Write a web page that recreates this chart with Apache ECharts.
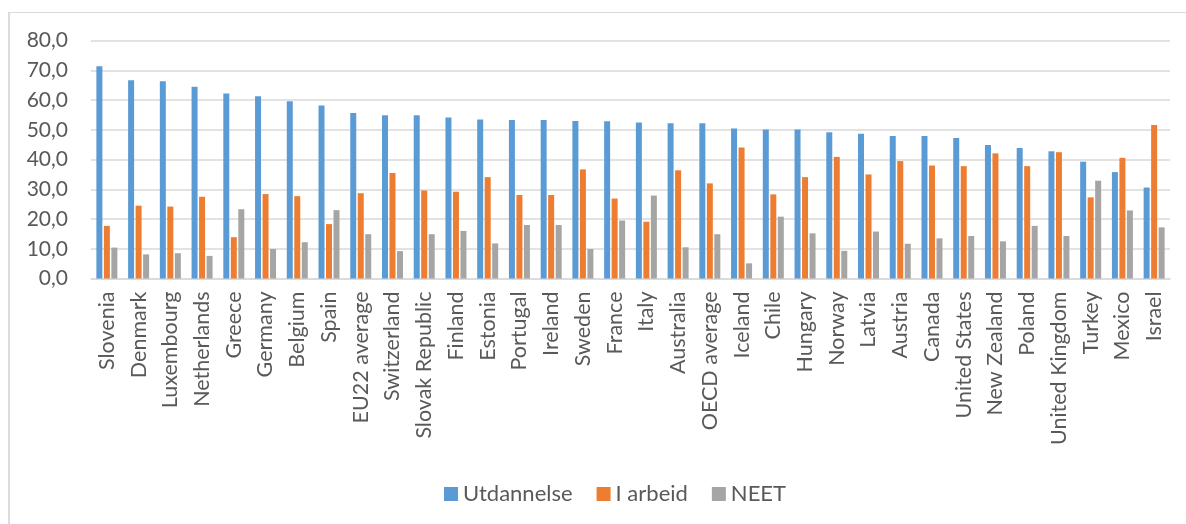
<!DOCTYPE html>
<html>
<head>
<meta charset="utf-8">
<script src="https://cdn.jsdelivr.net/npm/echarts@6/dist/echarts.min.js"></script>
<style>
  html, body { margin: 0; padding: 0; background: #ffffff; }
  #wrap { position: relative; width: 1186px; height: 524px; overflow: hidden; }
  #frame {
    position: absolute; left: 8px; top: 12px; width: 1400px; height: 600px;
    border-top: 1px solid #d9d9d9; border-left: 2px solid #dcdcdc;
  }
  #chart { position: absolute; left: 0; top: 0; width: 1186px; height: 524px; }
</style>
</head>
<body>
<div id="wrap">
  <div id="frame"></div>
  <div id="chart"></div>
</div>
<script>
const countries = ['Slovenia', 'Denmark', 'Luxembourg', 'Netherlands', 'Greece', 'Germany', 'Belgium', 'Spain',
  'EU22 average', 'Switzerland', 'Slovak Republic', 'Finland', 'Estonia', 'Portugal', 'Ireland', 'Sweden',
  'France', 'Italy', 'Australia', 'OECD average', 'Iceland', 'Chile', 'Hungary', 'Norway', 'Latvia',
  'Austria', 'Canada', 'United States', 'New Zealand', 'Poland', 'United Kingdom', 'Turkey', 'Mexico', 'Israel']

// Utdannelse
const utdannelse = [71.4, 66.7, 66.4, 64.5, 62.2, 61.3, 59.6, 58.2,
  55.7, 54.9, 54.9, 54.2, 53.5, 53.3, 53.3, 53.0,
  52.9, 52.5, 52.2, 52.2, 50.5, 50.1, 50.1, 49.2, 48.7,
  47.9, 47.9, 47.3, 44.9, 43.9, 42.8, 39.3, 35.8, 30.6]
// I arbeid
const iArbeid = [17.7, 24.5, 24.2, 27.5, 13.9, 28.4, 27.7, 18.3,
  28.7, 35.5, 29.6, 29.2, 34.1, 28.1, 28.1, 36.7,
  26.9, 19.1, 36.4, 32.0, 44.1, 28.3, 34.1, 40.9, 35.0,
  39.5, 38.0, 37.8, 42.1, 37.8, 42.5, 27.3, 40.6, 51.6]
// NEET
const neet = [10.4, 8.1, 8.5, 7.6, 23.3, 9.9, 12.2, 23.0,
  14.9, 9.2, 14.9, 16.0, 11.8, 18.0, 18.0, 9.9,
  19.5, 27.9, 10.5, 14.9, 5.1, 20.8, 15.2, 9.3, 15.8,
  11.7, 13.5, 14.3, 12.5, 17.7, 14.3, 32.9, 22.9, 17.2]

const seriesNames = ['Utdannelse', 'I arbeid', 'NEET']
const seriesColors = ['#5b9bd5', '#ed7d31', '#a5a5a5']

const font = 'Lato, "Open Sans", sans-serif'
const textColor = '#595959'

let myChart = echarts.init(document.getElementById('chart'), null, { renderer: 'canvas' })

function makeSeries (name, values, color) {
  return {
    name: name,
    type: 'bar',
    data: values,
    barWidth: 6,
    barGap: '25%',
    itemStyle: { color: color },
    emphasis: { disabled: true }
  }
}

let option = {
  animation: false,
  textStyle: { fontFamily: font },
  color: seriesColors,
  grid: {
    left: 91,
    right: 16,
    top: 40.7,
    bottom: 245.5
  },
  legend: {
    data: seriesNames,
    left: 439,
    top: 478,
    itemWidth: 14,
    itemHeight: 14,
    itemGap: 24,
    icon: 'rect',
    textStyle: { fontFamily: font, fontSize: 22, color: textColor }
  },
  xAxis: {
    type: 'category',
    data: countries,
    axisTick: { show: false },
    axisLine: { show: true, lineStyle: { color: '#d9d9d9', width: 1.5 } },
    axisLabel: {
      interval: 0,
      rotate: 90,
      margin: 13,
      fontFamily: font,
      fontSize: 21.5,
      color: textColor
    }
  },
  yAxis: {
    type: 'value',
    min: 0,
    max: 80,
    interval: 10,
    axisLine: { show: false },
    axisTick: { show: false },
    splitLine: { lineStyle: { color: '#d9d9d9', width: 1.5 } },
    axisLabel: {
      margin: 23,
      fontFamily: font,
      fontSize: 21,
      color: textColor,
      formatter: function (v) { return v.toFixed(1).replace('.', ',') }
    }
  },
  series: [
    makeSeries(seriesNames[0], utdannelse, seriesColors[0]),
    makeSeries(seriesNames[1], iArbeid, seriesColors[1]),
    makeSeries(seriesNames[2], neet, seriesColors[2])
  ]
}
myChart.setOption(option)
</script>
</body>
</html>
